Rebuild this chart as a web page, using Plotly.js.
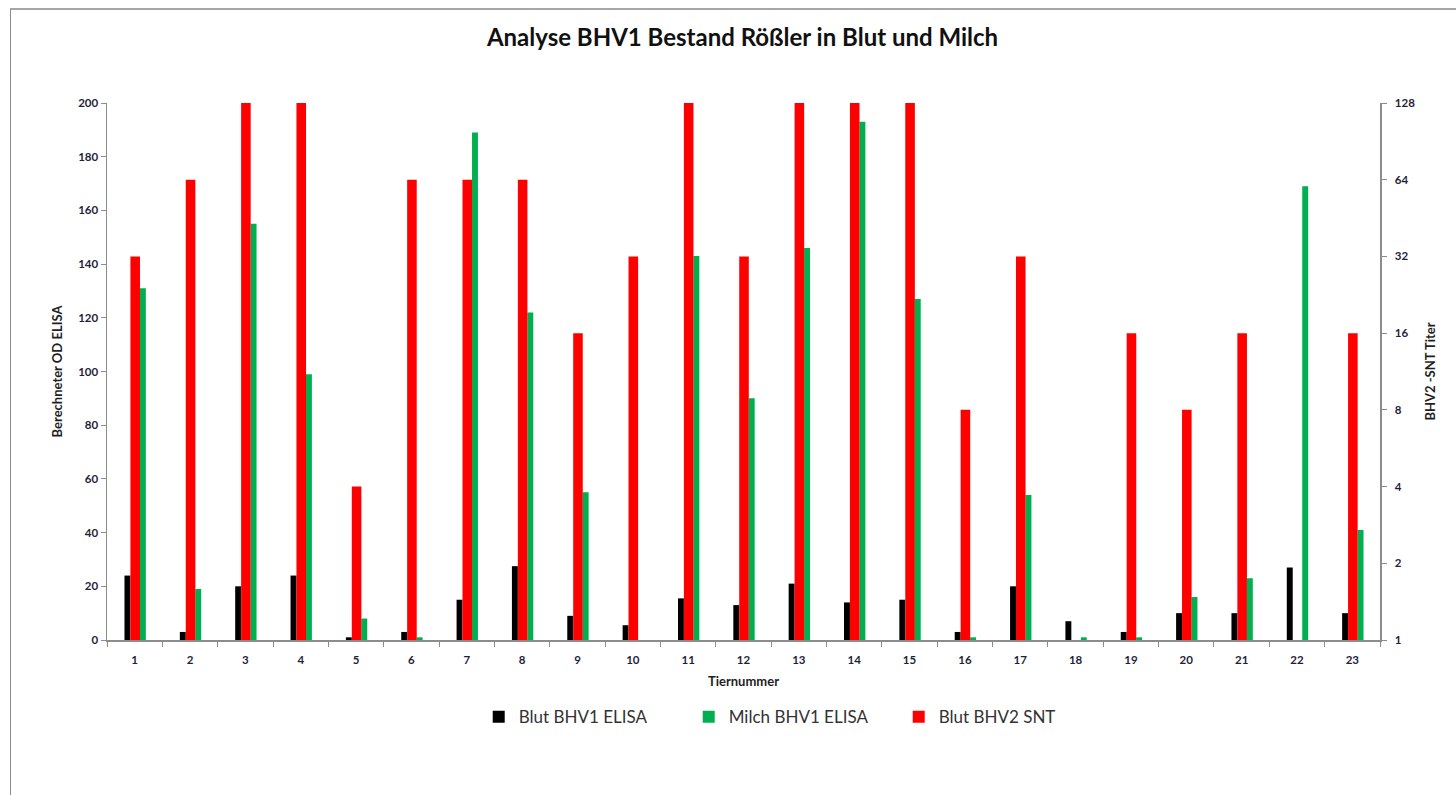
<!DOCTYPE html>
<html>
<head>
<meta charset="utf-8">
<script src="https://cdn.plot.ly/plotly-3.0.1.min.js"></script>
<style>
  html, body { margin: 0; padding: 0; background: #fff; }
  #frame { position: absolute; left: 10px; top: 8px; width: 1460px; height: 800px;
           border-left: 1px solid #8c8c8c; border-top: 2px solid #a6a6a6; pointer-events: none; }
  #chart { position: absolute; left: 0; top: 0; width: 1456px; height: 795px; }
</style>
</head>
<body>
<div id="chart"></div>
<div id="frame"></div>
<script>
// Data
const tiere = ["1","2","3","4","5","6","7","8","9","10","11","12","13","14","15","16","17","18","19","20","21","22","23"];
const blutBHV1 = [24, 3, 20, 24, 1, 3, 15, 27.5, 9, 5.5, 15.5, 13, 21, 14, 15, 3, 20, 7, 3, 10, 10, 27, 10];
const milchBHV1 = [131, 19, 155, 99, 8, 1, 189, 122, 55, 0, 143, 90, 146, 193, 127, 1, 54, 1, 1, 16, 23, 169, 41];
const blutBHV2 = [32, 64, 128, 128, 4, 64, 64, 64, 16, 32, 128, 32, 128, 128, 128, 8, 32, null, 16, 8, 16, null, 16];
const leftTicks = [0, 20, 40, 60, 80, 100, 120, 140, 160, 180, 200];
const rightTicks = [1, 2, 4, 8, 16, 32, 64, 128];

const FONT = "Lato, 'Open Sans', sans-serif";
const tickFont = { family: FONT, size: 11.5, color: "#1f1f3a", weight: "bold" };
const axTitleFont = { family: FONT, size: 13, color: "#1f1f1f", weight: "bold" };

const traces = [
  { type: "bar", name: "Blut BHV1 ELISA", x: tiere, y: blutBHV1, yaxis: "y",
    marker: { color: "#000000" }, offset: -0.184, width: 0.107 },
  { type: "bar", name: "Milch BHV1 ELISA", x: tiere, y: milchBHV1, yaxis: "y",
    marker: { color: "#00b050" }, offset: 0.095, width: 0.107 },
  { type: "bar", name: "Blut BHV2 SNT", x: tiere, y: blutBHV2, yaxis: "y2",
    marker: { color: "#ff0000" }, offset: -0.077, width: 0.173 }
];

const layout = {
  width: 1456, height: 795,
  margin: { l: 107, r: 76, t: 103, b: 155 },
  paper_bgcolor: "rgba(0,0,0,0)", plot_bgcolor: "#fff",
  font: { family: FONT },
  barmode: "overlay",
  showlegend: true,
  title: { text: "Analyse BHV1 Bestand Rößler in Blut und Milch", x: 0.51, xanchor: "center",
           y: 0.953, yanchor: "middle",
           font: { family: FONT, size: 24, color: "#111", weight: "bold" } },
  xaxis: {
    type: "category", range: [-0.5, 22.5],
    showline: true, linecolor: "#8c8c8c", linewidth: 1.5,
    ticks: "outside", ticklen: 5, tickcolor: "#8c8c8c", tickson: "boundaries",
    ticklabelstandoff: 9,
    showgrid: false, zeroline: false,
    tickfont: tickFont,
    title: { text: "Tiernummer", font: axTitleFont, standoff: 11 }
  },
  yaxis: {
    range: [0, 200], tickvals: leftTicks,
    showline: true, linecolor: "#8c8c8c", linewidth: 1.5,
    ticks: "outside", ticklen: 5, tickcolor: "#8c8c8c",
    showgrid: false, zeroline: false,
    tickfont: tickFont,
    title: { text: "Berechneter OD ELISA", font: axTitleFont, standoff: 12 }
  },
  yaxis2: {
    type: "log", overlaying: "y", side: "right",
    range: [0, Math.log10(128)], tickvals: rightTicks, ticktext: rightTicks.map(String),
    showline: true, linecolor: "#8c8c8c", linewidth: 1.5,
    ticks: "outside", ticklen: 5, tickcolor: "#8c8c8c",
    ticklabelstandoff: 6,
    showgrid: false, zeroline: false,
    tickfont: tickFont,
    title: { text: "BHV2 -SNT Titer", font: axTitleFont, standoff: 12 }
  },
  legend: {
    orientation: "h", x: 0.292, xanchor: "left", y: 0.098, yref: "container", yanchor: "middle",
    font: { family: FONT, size: 17, color: "#333" },
    itemwidth: 30, entrywidth: 165, entrywidthmode: "pixels", tracegroupgap: 0, itemclick: false
  }
};

Plotly.newPlot("chart", traces, layout, { displayModeBar: false, staticPlot: true });
</script>
</body>
</html>
